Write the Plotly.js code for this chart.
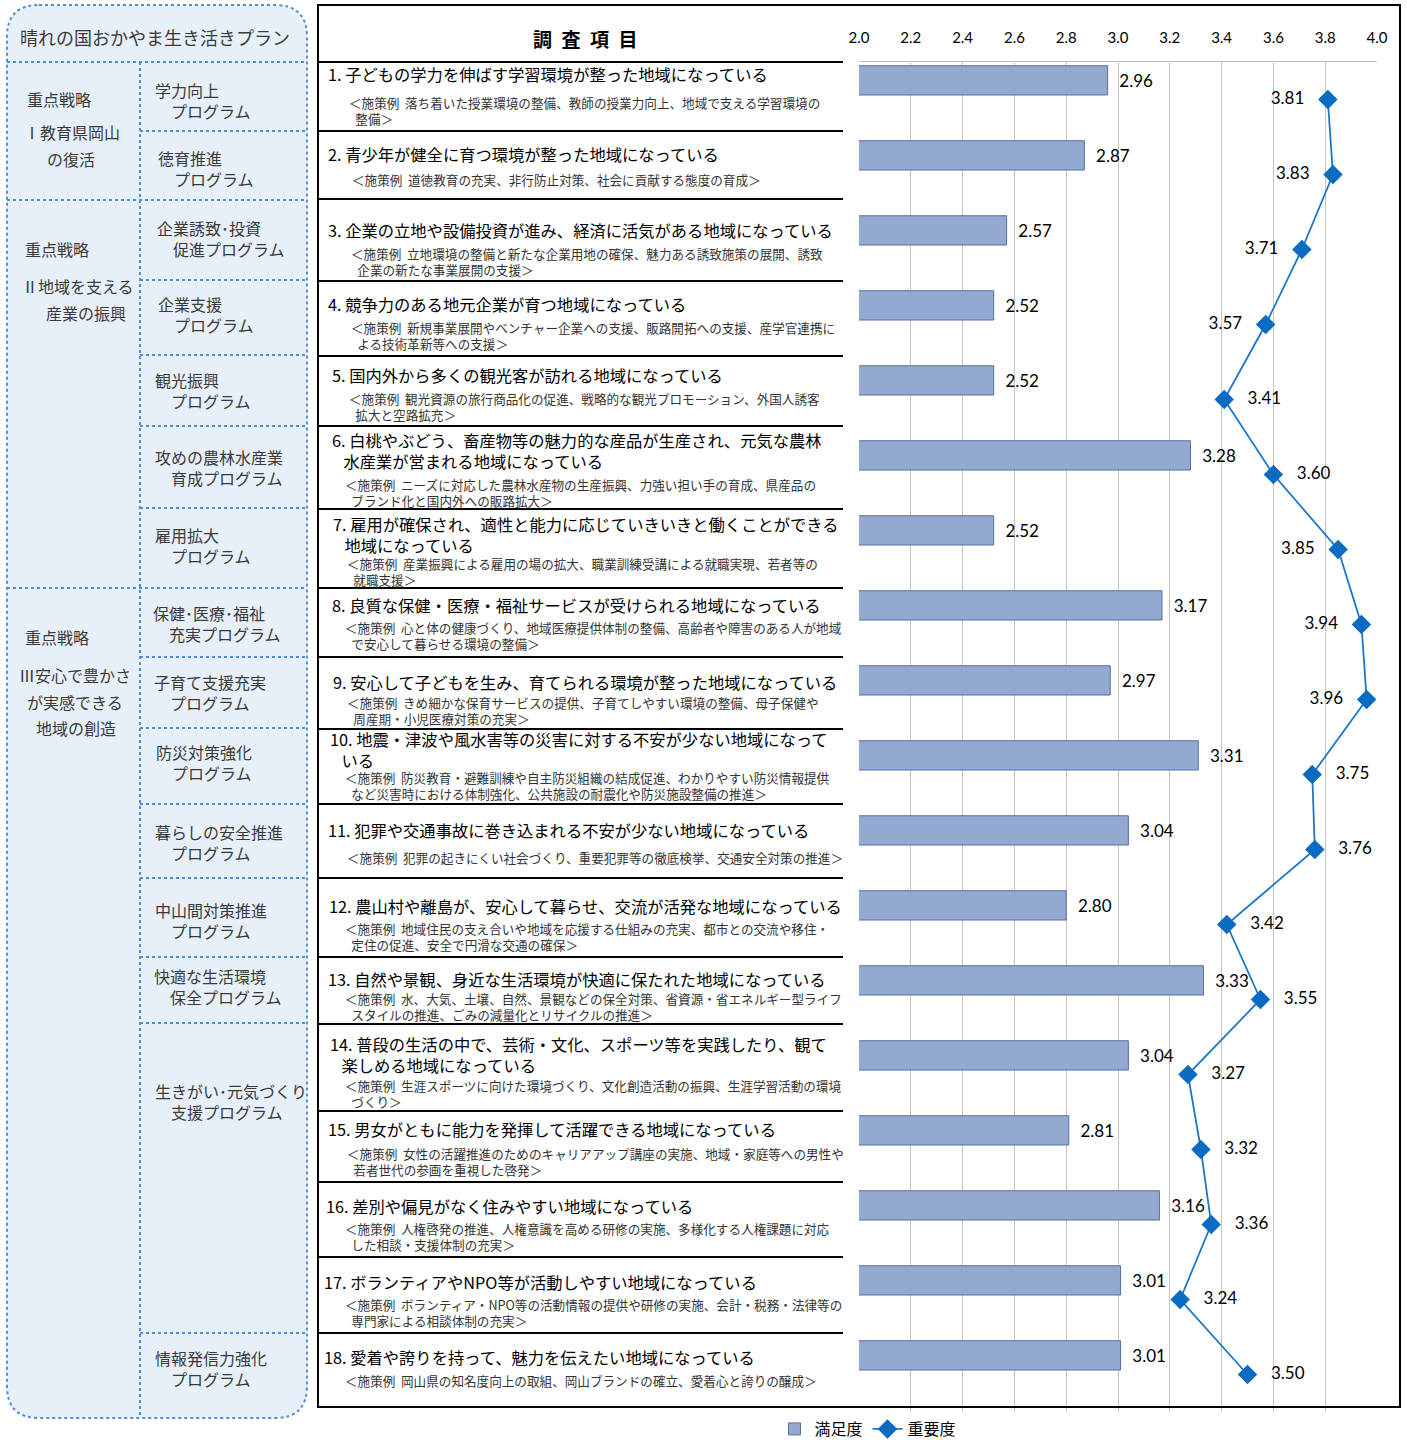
<!DOCTYPE html>
<html>
<head>
<meta charset="utf-8">
<script src="https://cdn.plot.ly/plotly-3.0.1.min.js"></script>
<style>
html,body{margin:0;padding:0;background:#fff;overflow:hidden;}
#chart{width:1407px;height:1440px;}
</style>
</head>
<body>
<div id="chart"></div>
<script>
// ---------------- DATA ----------------
const ITEM_NO = ["1","2","3","4","5","6","7","8","9","10","11","12","13","14","15","16","17","18"];
const SATISFACTION = [2.96,2.87,2.57,2.52,2.52,3.28,2.52,3.17,2.97,3.31,3.04,2.80,3.33,3.04,2.81,3.16,3.01,3.01];
const IMPORTANCE   = [3.81,3.83,3.71,3.57,3.41,3.60,3.85,3.94,3.96,3.75,3.76,3.42,3.55,3.27,3.32,3.36,3.24,3.50];
const SERIES_NAMES = ["満足度","重要度"];
const HEADER_TEXT = "調\u2002査\u2002項\u2002目";
const PLAN_TITLE = "晴れの国おかやま生き活きプラン";

const ITEM_TITLES = [
  ["1. 子どもの学力を伸ばす学習環境が整った地域になっている"],
  ["2. 青少年が健全に育つ環境が整った地域になっている"],
  ["3. 企業の立地や設備投資が進み、経済に活気がある地域になっている"],
  ["4. 競争力のある地元企業が育つ地域になっている"],
  ["5. 国内外から多くの観光客が訪れる地域になっている"],
  ["6. 白桃やぶどう、畜産物等の魅力的な産品が生産され、元気な農林","水産業が営まれる地域になっている"],
  ["7. 雇用が確保され、適性と能力に応じていきいきと働くことができる","地域になっている"],
  ["8. 良質な保健・医療・福祉サービスが受けられる地域になっている"],
  ["9. 安心して子どもを生み、育てられる環境が整った地域になっている"],
  ["10. 地震・津波や風水害等の災害に対する不安が少ない地域になって","いる"],
  ["11. 犯罪や交通事故に巻き込まれる不安が少ない地域になっている"],
  ["12. 農山村や離島が、安心して暮らせ、交流が活発な地域になっている"],
  ["13. 自然や景観、身近な生活環境が快適に保たれた地域になっている"],
  ["14. 普段の生活の中で、芸術・文化、スポーツ等を実践したり、観て","楽しめる地域になっている"],
  ["15. 男女がともに能力を発揮して活躍できる地域になっている"],
  ["16. 差別や偏見がなく住みやすい地域になっている"],
  ["17. ボランティアやNPO等が活動しやすい地域になっている"],
  ["18. 愛着や誇りを持って、魅力を伝えたい地域になっている"]
];

const ITEM_EXAMPLES = [
  ["＜施策例  落ち着いた授業環境の整備、教師の授業力向上、地域で支える学習環境の","整備＞"],
  ["＜施策例  道徳教育の充実、非行防止対策、社会に貢献する態度の育成＞"],
  ["＜施策例  立地環境の整備と新たな企業用地の確保、魅力ある誘致施策の展開、誘致","企業の新たな事業展開の支援＞"],
  ["＜施策例  新規事業展開やベンチャー企業への支援、販路開拓への支援、産学官連携に","よる技術革新等への支援＞"],
  ["＜施策例  観光資源の旅行商品化の促進、戦略的な観光プロモーション、外国人誘客","拡大と空路拡充＞"],
  ["＜施策例  ニーズに対応した農林水産物の生産振興、力強い担い手の育成、県産品の","ブランド化と国内外への販路拡大＞"],
  ["＜施策例  産業振興による雇用の場の拡大、職業訓練受講による就職実現、若者等の","就職支援＞"],
  ["＜施策例  心と体の健康づくり、地域医療提供体制の整備、高齢者や障害のある人が地域","で安心して暮らせる環境の整備＞"],
  ["＜施策例  きめ細かな保育サービスの提供、子育てしやすい環境の整備、母子保健や","周産期・小児医療対策の充実＞"],
  ["＜施策例  防災教育・避難訓練や自主防災組織の結成促進、わかりやすい防災情報提供","など災害時における体制強化、公共施設の耐震化や防災施設整備の推進＞"],
  ["＜施策例  犯罪の起きにくい社会づくり、重要犯罪等の徹底検挙、交通安全対策の推進＞"],
  ["＜施策例  地域住民の支え合いや地域を応援する仕組みの充実、都市との交流や移住・","定住の促進、安全で円滑な交通の確保＞"],
  ["＜施策例  水、大気、土壌、自然、景観などの保全対策、省資源・省エネルギー型ライフ","スタイルの推進、ごみの減量化とリサイクルの推進＞"],
  ["＜施策例  生涯スポーツに向けた環境づくり、文化創造活動の振興、生涯学習活動の環境","づくり＞"],
  ["＜施策例  女性の活躍推進のためのキャリアアップ講座の実施、地域・家庭等への男性や","若者世代の参画を重視した啓発＞"],
  ["＜施策例  人権啓発の推進、人権意識を高める研修の実施、多様化する人権課題に対応","した相談・支援体制の充実＞"],
  ["＜施策例  ボランティア・NPO等の活動情報の提供や研修の実施、会計・税務・法律等の","専門家による相談体制の充実＞"],
  ["＜施策例  岡山県の知名度向上の取組、岡山ブランドの確立、愛着心と誇りの醸成＞"]
];

const STRATEGIES = [
  ["重点戦略","Ⅰ教育県岡山","の復活"],
  ["重点戦略","Ⅱ地域を支える","産業の振興"],
  ["重点戦略","Ⅲ安心で豊かさ","が実感できる","地域の創造"]
];

const PROGRAMS = [
  ["学力向上","プログラム"],
  ["徳育推進","プログラム"],
  ["企業誘致･投資","促進プログラム"],
  ["企業支援","プログラム"],
  ["観光振興","プログラム"],
  ["攻めの農林水産業","育成プログラム"],
  ["雇用拡大","プログラム"],
  ["保健･医療･福祉","充実プログラム"],
  ["子育て支援充実","プログラム"],
  ["防災対策強化","プログラム"],
  ["暮らしの安全推進","プログラム"],
  ["中山間対策推進","プログラム"],
  ["快適な生活環境","保全プログラム"],
  ["生きがい･元気づくり","支援プログラム"],
  ["情報発信力強化","プログラム"]
];

// ---------------- LAYOUT / STYLE ----------------
const W = 1407, H = 1440;
const X = px => px / W;
const Y = py => 1 - py / H;
const JP = '"Noto Sans CJK JP", "Noto Sans", sans-serif';
const NUM = 'Lato, "Open Sans", sans-serif';

const PLOT_L = 859, PLOT_R = 1377, PLOT_T = 62, PLOT_B = 1412;
const LABEL_SIDE = ["left","left","left","left","right","right",
  "left","left","left","right","right","right","right",
  "right","right","right","right","right"];
const PAD = '\u00a0\u00a0\u00a0';

const ROW_LINES = [62,131,199,281,356,426,509,588,657,729,804,878,957,1024,1111,1182,1257,1333];
const TITLE_Y = [74,154,230,304,375,440,524,605,682,739,830,906,979,1044,1129,1206,1282,1357];
const TITLE_X = [326,326,326,326,330,330,331,330,331,328,326,327,326,328,326,324,322,322];
const TITLE_SIZE = 16.3;
const TITLE_INDENT = '\u2002\u2009';
const SUB_Y = [102,179,253,327,398,484,563,627,702,777,857,928,998,1085,1153,1228,1304,1380];
const SUB_X = [347,350,349,349,347,343,345,343,345,343,345,343,343,343,345,343,343,343];
const SUB_SIZE = 12.6;
const SUB_INDENT = '\u2002';
const LINE_SPACING = 1.3;   // Plotly's multi-line annotation spacing

const STRAT_POS = [
  [[25,99],[22,132],[45,159]],
  [[23,249],[20,286],[44,313]],
  [[23,637],[17,675],[25,702],[34,728]]
];
const PROG_Y = [90,158,228,304,380,457,535,613,682,752,832,910,976,1091,1358];
const PROG_X = [153,156,155,156,153,153,153,151,152,154,153,153,152,153,153];
const PROG_SIZE = 16;
const PROG_INDENT = '\u2002\u2002';
const PROG_LINES = [131,280,355,426,508,657,728,804,878,957,1023,1333];

const PANEL_FILL = '#e7eff9';
const PANEL_LINE = '#4f8fd6';
const TEXT_GRAY = '#3a3a3a';

// ---------------- TRACES ----------------
const barTrace = {
  type: 'bar', orientation: 'h',
  y: ITEM_NO, x: SATISFACTION, name: SERIES_NAMES[0],
  offset: -0.45, width: 0.39,
  marker: {color: '#94a9d1', line: {color: '#55709f', width: 1}},
  texttemplate: '\u00a0\u00a0%{x:.2f}', textposition: 'outside', constraintext: 'none',
  textfont: {family: NUM, size: 17, color: '#000'},
  cliponaxis: false, hoverinfo: 'skip'
};
const lineTrace = {
  type: 'scatter', mode: 'lines+markers+text',
  y: ITEM_NO, x: IMPORTANCE, name: SERIES_NAMES[1],
  line: {color: '#1d77c9', width: 1.8},
  marker: {symbol: 'diamond', size: 15, color: '#0a6cc0'},
  text: IMPORTANCE.map((v, i) => LABEL_SIDE[i] === 'left' ? v.toFixed(2) + PAD : PAD + v.toFixed(2)),
  textposition: LABEL_SIDE.map(s => 'middle ' + s),
  textfont: {family: NUM, size: 17, color: '#000'},
  cliponaxis: false, hoverinfo: 'skip'
};

// ---------------- SHAPES ----------------
const shapes = [];
(function(){
  const x0=7, x1=307, y0=5, y1=1418, r=32;
  const p = (x,y) => X(x) + ',' + Y(y);
  const path = 'M' + p(x0+r,y0) + ' L' + p(x1-r,y0) + ' Q' + p(x1,y0) + ' ' + p(x1,y0+r) +
    ' L' + p(x1,y1-r) + ' Q' + p(x1,y1) + ' ' + p(x1-r,y1) +
    ' L' + p(x0+r,y1) + ' Q' + p(x0,y1) + ' ' + p(x0,y1-r) +
    ' L' + p(x0,y0+r) + ' Q' + p(x0,y0) + ' ' + p(x0+r,y0) + ' Z';
  shapes.push({type:'path', xref:'paper', yref:'paper', path: path, fillcolor: PANEL_FILL,
    line:{color: PANEL_LINE, width: 2, dash: 'dot'}, layer: 'below'});
})();
const dotted = {color: PANEL_LINE, width: 2, dash: 'dot'};
[62,200,588].forEach(y => shapes.push({type:'line', xref:'paper', yref:'paper', x0:X(7), x1:X(307), y0:Y(y), y1:Y(y), line: dotted}));
shapes.push({type:'line', xref:'paper', yref:'paper', x0:X(140), x1:X(140), y0:Y(62), y1:Y(1418), line: dotted});
PROG_LINES.forEach(y => shapes.push({type:'line', xref:'paper', yref:'paper', x0:X(140), x1:X(307), y0:Y(y), y1:Y(y), line: dotted}));

shapes.push({type:'rect', xref:'paper', yref:'paper', x0:X(318), x1:X(1400), y0:Y(1407), y1:Y(5),
  line:{color:'#000', width:2}, fillcolor:'rgba(0,0,0,0)'});
ROW_LINES.forEach(y => shapes.push({type:'line', xref:'paper', yref:'paper', x0:X(318), x1:X(843), y0:Y(y), y1:Y(y),
  line:{color:'#000', width:2}}));

// ---------------- ANNOTATIONS ----------------
const ann = [];
function txt(text, x, y, size, color, anchor, weight) {
  ann.push({xref:'paper', yref:'paper', x: X(x), y: Y(y), text: text, showarrow: false,
    xanchor: anchor || 'left', yanchor: 'middle', align: 'left',
    font: {family: JP, size: size, color: color, weight: weight || 'normal'}});
}
// multi-line block: firstY = centre of first line
function block(lines, indent, x, firstY, size, color) {
  const text = lines.map((t, j) => j === 0 ? t : indent + t).join('<br>');
  const centre = firstY + (lines.length - 1) * size * LINE_SPACING / 2;
  txt(text, x, centre, size, color);
}
txt(PLAN_TITLE, 155, 37, 18, TEXT_GRAY, 'center');
txt(HEADER_TEXT, 585, 38, 19, '#000', 'center', 'bold');

STRATEGIES.forEach((lines, i) => lines.forEach((t, j) => txt(t, STRAT_POS[i][j][0], STRAT_POS[i][j][1], 16, TEXT_GRAY)));
PROGRAMS.forEach((lines, i) => block(lines, PROG_INDENT, PROG_X[i], PROG_Y[i], PROG_SIZE, TEXT_GRAY));
ITEM_TITLES.forEach((lines, i) => block(lines, TITLE_INDENT, TITLE_X[i], TITLE_Y[i], TITLE_SIZE, '#000'));
ITEM_EXAMPLES.forEach((lines, i) => block(lines, SUB_INDENT, SUB_X[i], SUB_Y[i], SUB_SIZE, '#333'));

// ---------------- LAYOUT ----------------
const layout = {
  width: W, height: H,
  margin: {l:0, r:0, t:0, b:0, autoexpand: false},
  paper_bgcolor: '#fff', plot_bgcolor: 'rgba(0,0,0,0)',
  font: {family: JP, color: '#000'},
  showlegend: true,
  xaxis: {
    domain: [X(PLOT_L), X(PLOT_R)], range: [2, 4], tick0: 2, dtick: 0.2, tickformat: '.1f',
    side: 'top', showgrid: true, gridcolor: '#c4c4c4', gridwidth: 1, zeroline: false,
    showline: true, linecolor: '#bdbdbd', linewidth: 1, ticks: '', ticklabelstandoff: 12,
    tickfont: {family: NUM, size: 15, color: '#000'}, fixedrange: true, automargin: false
  },
  yaxis: {
    domain: [1 - PLOT_B / H, 1 - PLOT_T / H], type: 'category', range: [17.5, -0.5],
    showticklabels: false, showgrid: false, zeroline: false, showline: false, ticks: '', fixedrange: true,
    automargin: false
  },
  legend: {
    orientation: 'h', x: X(868), xanchor: 'center', y: Y(1412), yanchor: 'top',
    font: {family: JP, size: 16, color: '#000'}, bgcolor: 'rgba(0,0,0,0)', traceorder: 'normal'
  },
  shapes: shapes,
  annotations: ann
};

Plotly.newPlot('chart', [barTrace, lineTrace], layout, {displayModeBar: false, responsive: false});
</script>
</body>
</html>
